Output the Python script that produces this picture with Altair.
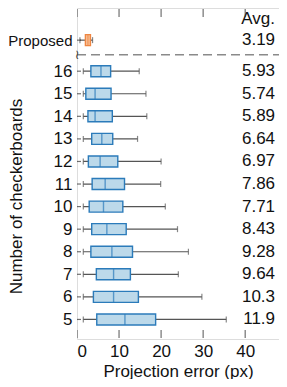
import altair as alt
import pandas as pd

# ---- data ----
labels = ["Proposed", "16", "15", "14", "13", "12", "11", "10", "9", "8", "7", "6", "5"]
row_pos = [17.375, 16, 15, 14, 13, 12, 11, 10, 9, 8, 7, 6, 5]
groups = ["Proposed"] + ["Checkerboard"] * 12
w_min = [0.7, 1.5, 1.5, 1.5, 1.5, 1.5, 1.5, 1.5, 1.5, 1.5, 1.5, 1.5, 1.5]
q1 = [2.0, 3.3, 2.1, 2.6, 3.5, 2.7, 3.6, 2.9, 3.5, 3.3, 4.6, 3.9, 4.7]
median = [2.6, 5.7, 4.3, 4.3, 5.9, 5.5, 6.7, 6.3, 7.1, 8.3, 8.7, 8.7, 11.4]
q3 = [3.2, 8.0, 8.1, 8.4, 8.5, 9.7, 11.3, 10.9, 11.7, 13.2, 12.7, 14.6, 18.7]
w_max = [3.7, 14.8, 16.4, 16.6, 14.4, 20.0, 19.9, 21.0, 23.9, 26.5, 24.1, 29.7, 35.5]
avg = ["3.19", "5.93", "5.74", "5.89", "6.64", "6.97", "7.86", "7.71", "8.43", "9.28", "9.64", "10.3", "11.9"]

x_ticks = [0, 10, 20, 30, 40]
x_domain = [0, 48.04]
y_domain = [4.355, 18.578]
sep_y = 16.73
avg_header_y = 18.32
avg_x = 47.1

df = pd.DataFrame({
    "label": labels, "pos": row_pos, "group": groups,
    "lo": w_min, "q1": q1, "med": median, "q3": q3, "hi": w_max, "avg": avg,
})

FONT = "Liberation Sans"
FS = 17

xs = alt.Scale(domain=x_domain, nice=False, zero=False)
ys = alt.Scale(domain=y_domain, nice=False, zero=False)

fill_scale = alt.Scale(domain=["Proposed", "Checkerboard"], range=["#f8c29b", "#bcd9ea"])
stroke_scale = alt.Scale(domain=["Proposed", "Checkerboard"], range=["#ee8642", "#2b7bba"])

x_axis = alt.Axis(
    values=x_ticks, ticks=False, tickSize=0, domain=False, grid=False,
    labelFontSize=FS, labelFont=FONT, labelColor="#111", labelPadding=4,
    title="Projection error (px)", titleFontSize=FS, titleFont=FONT,
    titleFontWeight="normal", titleColor="#111", titleBaseline="alphabetic", titleY=37)
y_axis = alt.Axis(
    values=row_pos, ticks=False, tickSize=0, domain=False, grid=False,
    labelFontSize={"condition": {"test": "datum.value > 17", "value": 15}, "value": FS},
    labelFont=FONT, labelColor="#111", labelPadding=5, labelOverlap=False,
    labelExpr="datum.value > 17 ? 'Proposed' : datum.label",
    title="Number of checkerboards", titleFontSize=FS, titleFont=FONT,
    titleFontWeight="normal", titleColor="#111", titleX=-61, titleY=188,
    titleBaseline="middle", titleAlign="center", titleAngle=270)


def X(field):
    return alt.X(field, scale=xs, axis=x_axis, title="Projection error (px)")


def Y(field):
    return alt.Y(field, scale=ys, axis=y_axis, title="Number of checkerboards")


base = alt.Chart(df)

whisker = base.mark_rule(color="#555", strokeWidth=1.2).encode(
    x=X("lo:Q"), x2="hi:Q", y=Y("pos:Q"))
cap_lo = base.mark_tick(orient="vertical", size=6, thickness=1.2, color="#555").encode(
    x=X("lo:Q"), y=Y("pos:Q"))
cap_hi = base.mark_tick(orient="vertical", size=6, thickness=1.2, color="#555").encode(
    x=X("hi:Q"), y=Y("pos:Q"))
box = base.mark_bar(orient="horizontal", size=11, strokeWidth=1.4).encode(
    x=X("q1:Q"), x2="q3:Q", y=Y("pos:Q"),
    fill=alt.Fill("group:N", scale=fill_scale, legend=None),
    stroke=alt.Stroke("group:N", scale=stroke_scale, legend=None))
med = base.mark_tick(orient="vertical", size=11, thickness=1.4).encode(
    x=X("med:Q"), y=Y("pos:Q"),
    color=alt.Color("group:N", scale=stroke_scale, legend=None))

# Average column
avg_df = pd.DataFrame({"x": [avg_x] * len(avg), "pos": row_pos, "avg": avg})
avg_text = alt.Chart(avg_df).mark_text(align="right", baseline="middle", font=FONT, fontSize=FS, color="#111").encode(
    x=X("x:Q"), y=Y("pos:Q"), text="avg:N")
hdr_df = pd.DataFrame({"x": [avg_x], "pos": [avg_header_y], "t": ["Avg."]})
hdr = alt.Chart(hdr_df).mark_text(align="right", baseline="middle", font=FONT, fontSize=FS, color="#111").encode(
    x=X("x:Q"), y=Y("pos:Q"), text="t:N")

# dashed separator
sep_df = pd.DataFrame({"y": [sep_y], "x0": [x_domain[0]], "x1": [x_domain[1]]})
sep = alt.Chart(sep_df).mark_rule(color="#8a8a8a", strokeWidth=1.6, strokeDash=[9, 5]).encode(
    x=X("x0:Q"), x2="x1:Q", y=Y("y:Q"))
brk = alt.Chart(sep_df).mark_text(text="≀", fontSize=13, color="#444", font="DejaVu Sans").encode(
    x=X("x0:Q"), y=Y("y:Q"))

# inward frame ticks
xt_df = pd.DataFrame({"x": x_ticks * 2, "y": [y_domain[0]] * 5 + [y_domain[1]] * 5})
xt = alt.Chart(xt_df).mark_tick(orient="vertical", size=8, thickness=1.2, color="#333", clip=True).encode(
    x=X("x:Q"), y=Y("y:Q"))
yt_df = pd.DataFrame({"x": [x_domain[0]] * len(row_pos), "y": row_pos})
yt = alt.Chart(yt_df).mark_tick(orient="horizontal", size=8, thickness=1.2, color="#333", clip=True).encode(
    x=X("x:Q"), y=Y("y:Q"))

chart = alt.layer(whisker, cap_lo, cap_hi, box, med, sep, avg_text, hdr, xt, yt, brk).properties(
    width=202, height=331,
    autosize=alt.AutoSizeParams(type="none"),
    padding={"left": 69, "top": 0, "right": 0, "bottom": 40},
).configure_view(stroke="#333", strokeWidth=1.5).configure_axisY(labelOverlap=False).configure(background="white")

chart.save("out.html", embed_options={"renderer": "svg", "actions": False})
